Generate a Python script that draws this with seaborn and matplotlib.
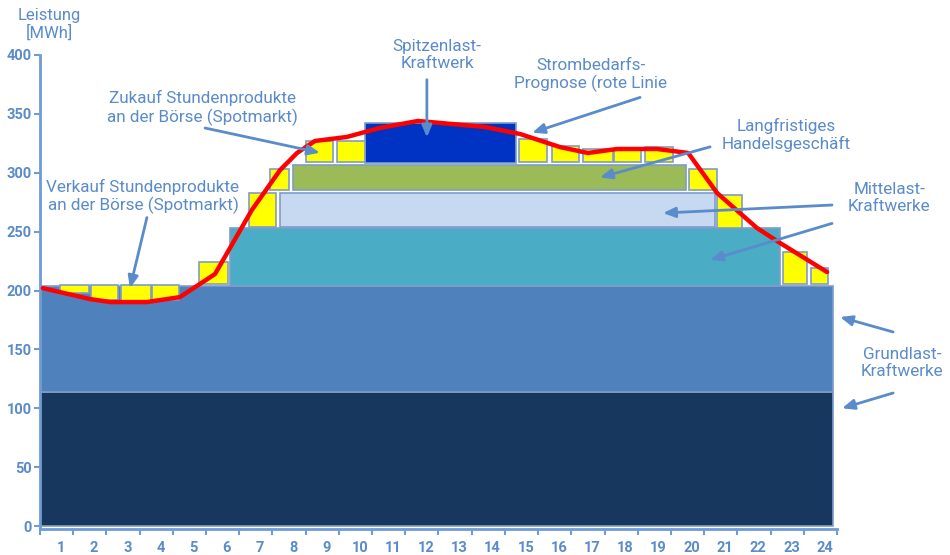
import matplotlib
matplotlib.use("Agg")
import matplotlib.pyplot as plt
import numpy as np
import pandas as pd
import seaborn as sns

# ---- data -------------------------------------------------------------
hours = list(range(1, 25))
y_ticks = [0, 50, 100, 150, 200, 250, 300, 350, 400]

# power plant layers: (left hour, right hour, bottom MW, top MW)
layer_names = ["Grundlast 1", "Grundlast 2", "Mittellast 1", "Mittellast 2",
               "Langfristig", "Spitzenlast"]
layer_left = [0.37, 0.37, 6.09, 7.60, 7.99, 10.16]
layer_right = [24.25, 24.25, 22.66, 20.70, 19.83, 14.70]
layer_bottom = [0, 114, 204, 254, 285, 308]
layer_top = [114, 204, 253, 283, 306.6, 342]
layer_colors = ["#17375e", "#4f81bd", "#4bacc6", "#c6d9f1", "#9bbb59", "#0033c4"]

# hourly products sold on the spot market (hanging below base load)
sell_left = [0.97, 1.90, 2.81, 3.74]
sell_right = [1.84, 2.72, 3.71, 4.55]
sell_bottom = [197.5, 191.6, 190.0, 191.6]
sell_top = [204.5, 204.5, 204.5, 204.5]

# hourly products bought on the spot market
buy_left = [5.16, 6.66, 7.30, 8.38, 9.31, 14.80, 15.79, 16.72, 17.66,
            18.59, 19.92, 20.76, 22.75, 23.59]
buy_right = [6.03, 7.48, 7.87, 9.19, 10.16, 15.64, 16.60, 17.63, 18.47,
             19.43, 20.76, 21.51, 23.47, 24.10]
buy_bottom = [205.5, 254, 285.3, 309, 309, 309, 309, 309, 309,
              309, 285.3, 253, 205.5, 205.5]
buy_top = [224.2, 282.8, 303.2, 327, 327, 328.7, 322.7, 320, 320,
           322, 303, 281, 232.7, 219]

# demand forecast (red line)
demand_hours = [0.46, 1.87, 2.48, 3.59, 4.58, 5.64, 6.75, 7.60, 8.11, 8.65,
                9.61, 10.61, 11.75, 13.77, 14.83, 16.03, 16.87, 17.75, 18.95,
                19.89, 20.76, 21.96, 22.66, 24.07]
demand_mw = [202.0, 192.8, 190.2, 190.2, 194.4, 214.0, 268.4, 302.3, 316.8,
             327.0, 330.4, 338.1, 344.0, 338.9, 332.9, 321.8, 316.8, 320.2,
             320.2, 316.8, 282.8, 253.1, 240.3, 215.7]

# ---- style ------------------------------------------------------------
sns.set_theme(style="white")
plt.rcParams["font.family"] = ["Roboto", "DejaVu Sans"]

TXT = "#5a8bcb"
AXC = "#6f9bd6"
EDGE = "#7f9cc8"

fig = plt.figure(figsize=(9.5, 5.55), dpi=100)
ax = fig.add_axes([40 / 950, 26 / 555, 797 / 950, 474 / 555])

# power plant blocks
for i in range(len(layer_names)):
    ax.bar(layer_left[i], layer_top[i] - layer_bottom[i],
           width=layer_right[i] - layer_left[i], bottom=layer_bottom[i],
           align="edge", color=layer_colors[i], edgecolor=EDGE,
           linewidth=1.2, zorder=2)

# spot market products
for l, r, b, t in zip(sell_left, sell_right, sell_bottom, sell_top):
    ax.bar(l, t - b, width=r - l, bottom=b, align="edge", color="#ffff00",
           edgecolor=EDGE, linewidth=1.2, zorder=3)
for l, r, b, t in zip(buy_left, buy_right, buy_bottom, buy_top):
    ax.bar(l, t - b, width=r - l, bottom=b, align="edge", color="#ffff00",
           edgecolor=EDGE, linewidth=1.2, zorder=3)

# demand forecast
demand = pd.DataFrame({"Stunde": demand_hours, "Leistung": demand_mw})
sns.lineplot(data=demand, x="Stunde", y="Leistung", color="#ff0000",
             linewidth=3.2, sort=False, estimator=None, ax=ax, zorder=4)

# ---- axes -------------------------------------------------------------
ax.set_xlim(0.37, 24.37)
ax.set_ylim(-2.5, 400)
ax.set_xlabel("")
ax.set_ylabel("")
for side in ["top", "right"]:
    ax.spines[side].set_visible(False)
for side in ["left", "bottom"]:
    ax.spines[side].set_color(AXC)
    ax.spines[side].set_linewidth(2)

ax.set_yticks(y_ticks)
ax.set_yticklabels([str(v) for v in y_ticks], fontsize=10.5, fontweight="bold",
                   color=TXT)
ax.tick_params(axis="y", direction="out", length=4, width=1.5, color=AXC,
               pad=2, left=True)

ax.set_xticks([0.37 + k for k in range(25)])
ax.set_xticklabels([])
ax.set_xticks(hours, minor=True)
ax.set_xticklabels([str(h) for h in hours], minor=True, fontsize=10.5,
                   fontweight="bold", color=TXT)
ax.tick_params(axis="x", which="major", direction="out", length=4, width=1.5,
               color=AXC, bottom=True)
ax.tick_params(axis="x", which="minor", length=0, pad=9, bottom=True)
ax.grid(False)

ax.text(0.65, 426, "Leistung\n[MWh]", ha="center", va="center", fontsize=12,
        color=TXT, clip_on=False, linespacing=1.15)

# ---- annotations ------------------------------------------------------
arrow = dict(arrowstyle="-|>,head_length=0.6,head_width=0.25", color=TXT,
             lw=2, shrinkA=0, shrinkB=0)

labels = [
    ("Spitzenlast-\nKraftwerk", 12.33, 400),
    ("Strombedarfs-\nPrognose (rote Linie", 16.95, 383),
    ("Zukauf Stundenprodukte\nan der Börse (Spotmarkt)", 5.25, 355),
    ("Langfristiges\nHandelsgeschäft", 22.84, 332),
    ("Verkauf Stundenprodukte\nan der Börse (Spotmarkt)", 3.47, 280),
    ("Mittelast-\nKraftwerke", 25.94, 278.6),
    ("Grundlast-\nKraftwerke", 26.33, 138.4),
]
for txt, x, y in labels:
    ax.text(x, y, txt, ha="center", va="center", fontsize=12.3, color=TXT,
            linespacing=1.15, clip_on=False, zorder=6)

arrows = [
    ((12.02, 379), (12.02, 330)),
    ((18.44, 364), (15.19, 334)),
    ((5.34, 338), (8.80, 317)),
    ((20.55, 322), (17.23, 296)),
    ((3.59, 262), (3.08, 202)),
    ((24.22, 272.6), (19.13, 265.8)),
    ((24.22, 257), (20.55, 226)),
    ((26.06, 164.8), (24.46, 177.5)),
    ((26.06, 113), (24.52, 100)),
]
for tail, head in arrows:
    ax.annotate("", xy=head, xytext=tail, arrowprops=arrow,
                annotation_clip=False, zorder=7)

fig.savefig("out.png", dpi=100)
